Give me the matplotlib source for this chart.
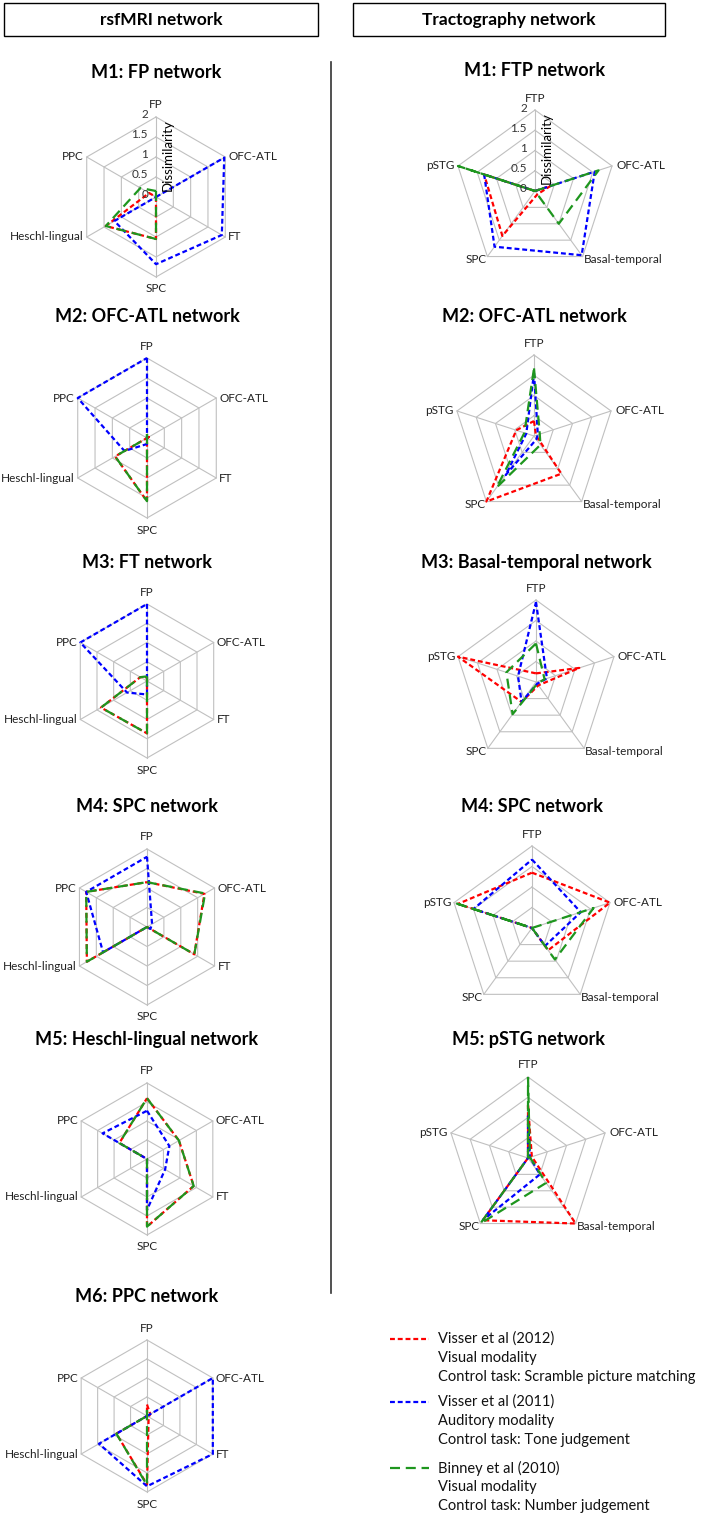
import numpy as np
import matplotlib
matplotlib.use('Agg')
import matplotlib.pyplot as plt
from matplotlib.lines import Line2D
from matplotlib.patches import Rectangle

plt.rcParams['font.family'] = ['Lato', 'DejaVu Sans']

W, H = 703, 1517

hex_labels = ['FP', 'OFC-ATL', 'FT', 'SPC', 'Heschl-lingual', 'PPC']
pent_labels = ['FTP', 'OFC-ATL', 'Basal-temporal', 'SPC', 'pSTG']
scale_ticks = [0, 0.5, 1, 1.5, 2]
scale_text = ['0', '0.5', '1', '1.5', '2']

# rsfMRI networks (red = Visser 2012, blue = Visser 2011, green = Binney 2010)
rs_m1_red = [0.0, 0.0, 0.0, 1.05, 1.45, 0.2]
rs_m1_blue = [0.0, 1.97, 1.9, 1.68, 1.2, 0.0]
rs_m1_green = [0.15, 0.0, 0.0, 1.05, 1.45, 0.45]

rs_m2_red = [0.0, 0.05, 0.0, 1.58, 0.92, 0.0]
rs_m2_blue = [2.0, 0.0, 0.0, 0.15, 0.65, 2.0]
rs_m2_green = [0.1, 0.0, 0.0, 1.58, 0.92, 0.0]

rs_m3_red = [0.1, 0.0, 0.0, 1.36, 1.38, 0.2]
rs_m3_blue = [2.0, 0.0, 0.0, 0.35, 0.6, 2.0]
rs_m3_green = [0.12, 0.0, 0.0, 1.36, 1.38, 0.2]

rs_m4_red = [1.15, 1.7, 1.4, 0.0, 1.78, 1.8]
rs_m4_blue = [1.8, 0.15, 0.1, 0.0, 1.3, 1.8]
rs_m4_green = [1.15, 1.72, 1.4, 0.0, 1.78, 1.8]

rs_m5_red = [1.6, 0.97, 1.42, 1.78, 0.0, 0.84]
rs_m5_blue = [1.27, 0.68, 0.55, 1.34, 0.0, 1.35]
rs_m5_green = [1.6, 0.97, 1.42, 1.78, 0.0, 0.84]

rs_m6_red = [0.3, 0.1, 0.05, 1.8, 0.93, 0.0]
rs_m6_blue = [0.0, 2.0, 2.0, 1.85, 1.46, 0.0]
rs_m6_green = [0.15, 0.0, 0.0, 1.82, 0.93, 0.0]

# tractography networks
tr_m1_red = [0.0, 0.4, 0.1, 1.37, 1.32]
tr_m1_blue = [0.0, 1.55, 1.96, 1.7, 1.32]
tr_m1_green = [0.0, 1.65, 1.0, 0.0, 2.0]

tr_m2_red = [0.37, 0.05, 1.15, 2.0, 0.46]
tr_m2_blue = [1.55, 0.1, 0.1, 1.19, 0.2]
tr_m2_green = [1.67, 0.15, 0.27, 1.57, 0.25]

tr_m3_red = [0.21, 1.11, 0.1, 0.6, 2.0]
tr_m3_blue = [1.95, 0.28, 0.05, 0.6, 0.46]
tr_m3_green = [0.94, 0.22, 0.05, 0.97, 0.76]

tr_m4_red = [1.35, 2.0, 0.67, 0.0, 1.9]
tr_m4_blue = [1.67, 1.25, 0.54, 0.0, 1.5]
tr_m4_green = [0.0, 1.58, 0.95, 0.0, 2.0]

tr_m5_red = [1.3, 0.1, 2.0, 1.9, 0.0]
tr_m5_blue = [1.05, 0.05, 0.5, 1.9, 0.0]
tr_m5_green = [2.0, 0.05, 0.76, 2.0, 0.0]

legend_lines = [
    ['Visser et al (2012)', 'Visual modality', 'Control task: Scramble picture matching'],
    ['Visser et al (2011)', 'Auditory modality', 'Control task: Tone judgement'],
    ['Binney et al (2010)', 'Visual modality', 'Control task: Number judgement'],
]

RED, BLUE, GREEN = '#ff0000', '#0000ff', '#1e961e'
DASH_SHORT = (2.2, 1.3)
DASH_LONG = (4.5, 2.6)
GRID = '#c0c0c0'

fig = plt.figure(figsize=(W / 100, H / 100), dpi=100)


def px(v):
    # pixels -> points
    return v * 0.72


# label offsets (pixels) and alignment per vertex
hex_pos = [((0, 12), 'center'), ((3, 0), 'left'), ((3, 0), 'left'),
           ((0, -12), 'center'), ((-3, 0), 'right'), ((-3, 0), 'right')]
pent_pos = [((0, 12), 'center'), ((4, 0), 'left'), ((1, -3), 'left'),
            ((-1, -3), 'right'), ((-3, 0), 'right')]


def radar(cx, cy, R, labels, red, blue, green, title, ty, scale=False):
    ax = fig.add_axes([(cx - R) / W, 1 - (cy + R) / H, 2 * R / W, 2 * R / H],
                      projection='polar')
    ax.set_theta_zero_location('N')
    ax.set_theta_direction(-1)
    ax.set_ylim(0, 2)
    ax.set_axis_off()
    n = len(labels)
    th = np.linspace(0, 2 * np.pi, n, endpoint=False)
    thc = np.append(th, th[0])
    for lev in scale_ticks[1:]:
        ax.plot(thc, [lev] * (n + 1), color=GRID, lw=0.8, clip_on=False, zorder=1)
    for t in th:
        ax.plot([t, t], [0, 2], color=GRID, lw=0.8, clip_on=False, zorder=1)
    for vals, col, ds in [(red, RED, DASH_SHORT), (blue, BLUE, DASH_SHORT),
                          (green, GREEN, DASH_LONG)]:
        ax.plot(thc, list(vals) + [vals[0]], color=col, lw=1.6, dashes=ds,
                clip_on=False, zorder=3)
    pos = hex_pos if n == 6 else pent_pos
    for t, lab, ((dx, dy), ha) in zip(th, labels, pos):
        ax.annotate(lab, xy=(t, 2), xytext=(px(dx), px(dy)), textcoords='offset points',
                    ha=ha, va='center', fontsize=8.5, color='#222222')
    if scale:
        for lev, s in zip(scale_ticks, scale_text):
            ax.annotate(s, xy=(0, lev), xytext=(px(-8), px(2)), textcoords='offset points',
                        ha='right', va='center', fontsize=8.5, color='#333333')
        ax.annotate('Dissimilarity', xy=(0, 1.05), xytext=(px(12), 0),
                    textcoords='offset points', rotation=90, ha='center',
                    va='center', fontsize=9.5, color='black')
    fig.text(cx / W, 1 - ty / H, title, ha='center', va='center',
             fontsize=13, fontweight='bold')


radar(156, 197, 80, hex_labels, rs_m1_red, rs_m1_blue, rs_m1_green, 'M1: FP network', 72, scale=True)
radar(147, 438, 80, hex_labels, rs_m2_red, rs_m2_blue, rs_m2_green, 'M2: OFC-ATL network', 316)
radar(147, 681, 77, hex_labels, rs_m3_red, rs_m3_blue, rs_m3_green, 'M3: FT network', 563)
radar(147, 927, 78, hex_labels, rs_m4_red, rs_m4_blue, rs_m4_green, 'M4: SPC network', 807)
radar(147, 1159, 76, hex_labels, rs_m5_red, rs_m5_blue, rs_m5_green, 'M5: Heschl-lingual network', 1039)
radar(147, 1416, 76, hex_labels, rs_m6_red, rs_m6_blue, rs_m6_green, 'M6: PPC network', 1296)

radar(535, 191, 81, pent_labels, tr_m1_red, tr_m1_blue, tr_m1_green, 'M1: FTP network', 70, scale=True)
radar(534, 436, 81, pent_labels, tr_m2_red, tr_m2_blue, tr_m2_green, 'M2: OFC-ATL network', 316)
radar(536, 682, 82, pent_labels, tr_m3_red, tr_m3_blue, tr_m3_green, 'M3: Basal-temporal network', 563)
radar(532, 928, 82, pent_labels, tr_m4_red, tr_m4_blue, tr_m4_green, 'M4: SPC network', 807)
radar(528, 1158, 81, pent_labels, tr_m5_red, tr_m5_blue, tr_m5_green, 'M5: pSTG network', 1039)

# header boxes
for x0, x1, txt in [(4, 318, 'rsfMRI network'), (353, 665, 'Tractography network')]:
    fig.add_artist(Rectangle((x0 / W, 1 - 36 / H), (x1 - x0) / W, 33 / H,
                             transform=fig.transFigure, fill=False, ec='black', lw=1))
    fig.text((x0 + x1) / 2 / W, 1 - 20 / H, txt, ha='center', va='center',
             fontsize=12.5, fontweight='bold')

# divider
fig.add_artist(Line2D([331 / W, 331 / W], [1 - 62 / H, 1 - 1293 / H],
                      transform=fig.transFigure, color='#333333', lw=1.2))

# legend
for y0, col, ds, lines in zip([1339, 1402, 1468], [RED, BLUE, GREEN],
                              [DASH_SHORT, DASH_SHORT, DASH_LONG], legend_lines):
    fig.add_artist(Line2D([390 / W, 429 / W], [1 - y0 / H] * 2, transform=fig.transFigure,
                          color=col, lw=1.6, dashes=ds))
    for k, s in enumerate(lines):
        fig.text(438 / W, 1 - (y0 + 19 * k) / H, s, ha='left', va='center',
                 fontsize=10.5, color='#111111')

fig.savefig('out.png', dpi=100)
